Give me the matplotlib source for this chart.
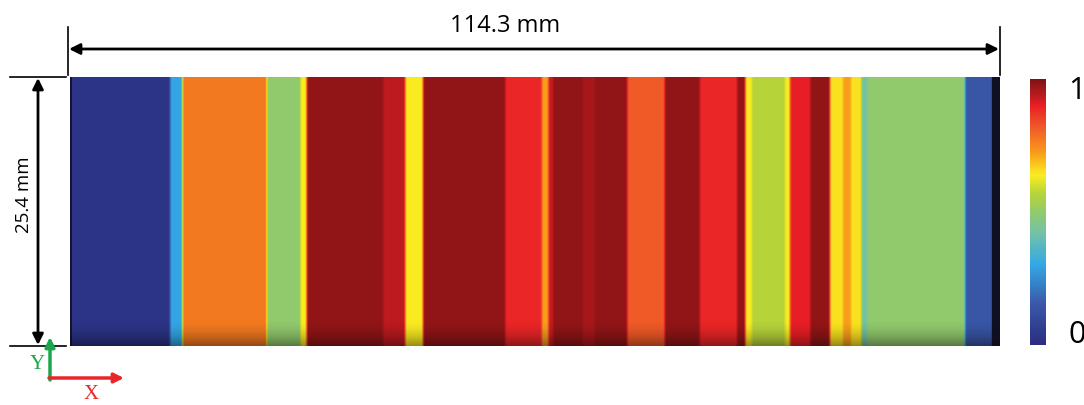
import numpy as np
import matplotlib
matplotlib.use("Agg")
import matplotlib.pyplot as plt
from matplotlib.colors import LinearSegmentedColormap

# normalised field along the plate length (mm) -> piecewise constant bands
band_edges = [0.0, 0.25, 12.3, 13.8, 24.2, 28.3, 29.1, 38.5, 41.2, 43.4,
              53.5, 58.0, 58.8, 59.4, 63.0, 64.5, 68.5, 73.1, 77.4, 82.0,
              83.0, 83.8, 87.9, 88.5, 91.0, 93.4, 95.0, 96.0, 97.3, 98.0,
              110.0, 113.3, 114.3]
band_values = [0.02, 0.03, 0.30, 0.77, 0.50, 0.64, 0.98, 0.94, 0.64,
               0.98, 0.89, 0.72, 0.93, 0.98, 0.96, 0.98, 0.82, 0.98, 0.89,
               0.98, 0.64, 0.57, 0.64, 0.90, 0.98, 0.65, 0.72, 0.65, 0.42,
               0.50, 0.15, 0.0]

plate_length = 114.3
plate_width = 25.4

# jet-like palette as printed on the legend bar
cmap = LinearSegmentedColormap.from_list("field", [
    (0.00, "#2a2d80"), (0.15, "#3a57a7"), (0.30, "#32a8e6"),
    (0.42, "#72c2a6"), (0.50, "#92ca6c"), (0.57, "#b7d43a"),
    (0.64, "#fbec21"), (0.72, "#f9a01b"), (0.77, "#f47b20"),
    (0.82, "#f05a28"), (0.90, "#ea1f26"), (1.00, "#7c1313")])

x = np.arange(0, plate_length, 0.05)
idx = np.clip(np.searchsorted(band_edges, x, side="right") - 1, 0, len(band_values) - 1)
profile = np.array(band_values)[idx]
# soften the band edges a little
kernel = np.ones(7) / 7
profile = np.convolve(np.pad(profile, 3, mode="edge"), kernel, mode="valid")
field = np.tile(profile, (60, 1))

fig = plt.figure(figsize=(10.84, 4.06), dpi=100)

# overlay axes in pixel units for the dimension lines
ov = fig.add_axes([0, 0, 1, 1])
ov.set_xlim(0, 1084)
ov.set_ylim(406, 0)
ov.axis("off")

ax = fig.add_axes([70 / 1084, 59 / 406, 930 / 1084, 269 / 406])
im = ax.imshow(field, cmap=cmap, vmin=0, vmax=1, aspect="auto",
               extent=[0, plate_length, 0, plate_width], origin="lower",
               interpolation="bilinear")

# darker shading near the lower edge and right end of the plate
shade = np.zeros((60, 2, 4))
shade[..., 3] = np.linspace(0.6, 0, 60)[:, None] ** 1.8
ax.imshow(shade, aspect="auto", extent=[0, plate_length, 0, plate_width * 0.1],
          origin="lower", interpolation="bilinear")
ax.axvspan(113.3, plate_length, color="#0d0d1a", alpha=0.9, lw=0)
ax.axvspan(0, 0.3, color="#0d0d1a", alpha=0.8, lw=0)
ax.set_xlim(0, plate_length)
ax.set_ylim(0, plate_width)
ax.axis("off")

# length dimension
arrow = dict(arrowstyle="<|-|>", color="black", lw=2, mutation_scale=16,
             shrinkA=0, shrinkB=0)
ov.plot([68, 68], [28, 76], color="black", lw=1.2)
ov.plot([1000, 1000], [28, 76], color="black", lw=1.2)
ov.annotate("", xy=(69, 50), xytext=(999, 50), arrowprops=arrow)
ov.text(505, 32, "114.3 mm", ha="center", va="baseline", fontsize=17,
        family="Open Sans")

# width dimension
ov.plot([10, 66], [78, 78], color="black", lw=1.2)
ov.plot([10, 66], [347, 347], color="black", lw=1.2)
ov.annotate("", xy=(38, 79), xytext=(38, 346), arrowprops=arrow)
ov.text(24, 195, "25.4 mm", ha="center", va="center", rotation=90,
        fontsize=13.5, family="Open Sans")

# coordinate triad
ov.annotate("", xy=(50, 338), xytext=(50, 381),
            arrowprops=dict(arrowstyle="-|>", color="#1aa64a", lw=2.5,
                            mutation_scale=14, shrinkA=0, shrinkB=0))
ov.annotate("", xy=(124, 379), xytext=(49, 379),
            arrowprops=dict(arrowstyle="-|>", color="#e8262a", lw=2.5,
                            mutation_scale=14, shrinkA=0, shrinkB=0))
ov.text(37, 365, "Y", color="#1aa64a", fontsize=15, ha="center",
        va="center", family="Liberation Serif")
ov.text(91, 395, "X", color="#e8262a", fontsize=15, ha="center",
        va="center", family="Liberation Serif")

# colour bar
cax = fig.add_axes([1030 / 1084, 60 / 406, 16 / 1084, 266 / 406])
cbar = fig.colorbar(im, cax=cax)
cbar.set_ticks([])
cbar.outline.set_visible(False)
cax.text(2.4, 0.96, "1", transform=cax.transAxes, ha="left", va="center",
         fontsize=22, family="Open Sans")
cax.text(2.4, 0.04, "0", transform=cax.transAxes, ha="left", va="center",
         fontsize=22, family="Open Sans")

fig.savefig("out.png", dpi=100)
